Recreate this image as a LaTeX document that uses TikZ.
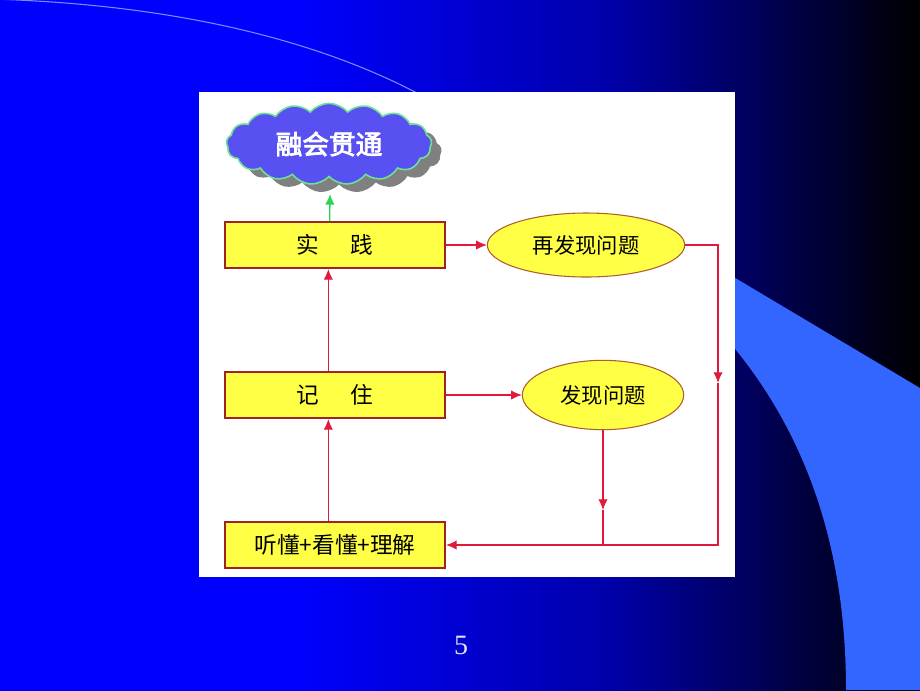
\documentclass[tikz,border=0pt]{standalone}
\usepackage{fontspec}
\usepackage{tikz}
\usetikzlibrary{calc,shapes,shapes.symbols,arrows.meta}
\newfontfamily\cjk{Noto Sans CJK SC}
\newfontfamily\cjkbold[FakeBold=3]{Noto Sans CJK SC}
\newfontfamily\numfont{Liberation Serif}
\definecolor{bgmid}{RGB}{0,0,170}
\definecolor{bgnavy}{RGB}{0,0,100}
\definecolor{bandblue}{RGB}{51,102,255}
\definecolor{arcblue}{RGB}{120,140,255}
\definecolor{boxyellow}{RGB}{255,255,70}
\definecolor{boxborder}{RGB}{160,35,35}
\definecolor{ellborder}{RGB}{175,95,40}
\definecolor{linered}{RGB}{225,25,60}
\definecolor{arrowgreen}{RGB}{40,215,80}
\definecolor{cloudblue}{RGB}{88,80,240}
\definecolor{cloudedge}{RGB}{110,225,150}
\definecolor{shadowgray}{RGB}{128,128,128}
\definecolor{numgray}{RGB}{225,225,235}
\pgfdeclarehorizontalshading{slidebg}{100bp}{color(0bp)=(blue); color(25bp)=(blue); color(41bp)=(blue); color(58bp)=(bgmid); color(65bp)=(bgnavy); color(75bp)=(black); color(100bp)=(black)}

\begin{document}
\begin{tikzpicture}[x=0.75pt,y=-0.75pt,
  redline/.style={draw=linered,line width=0.9pt},
  redarrow/.style={redline,-{Latex[length=8pt,width=7pt]}},
  puff/.style={cloud,cloud puffs=17,cloud puff arc=100,aspect=3,inner sep=0pt,
    minimum width=154pt,minimum height=61pt},
  stepbox/.style={draw=boxborder,line width=1.5pt,fill=boxyellow,
    minimum width=165pt,minimum height=34.5pt,inner sep=0pt,
    font=\cjk\fontsize{17}{20}\selectfont},
  question/.style={ellipse,draw=ellborder,line width=0.8pt,fill=boxyellow,
    inner sep=0pt,font=\cjk\fontsize{16}{19}\selectfont}]
  \useasboundingbox (0,0) rectangle (920,690);

  %% Slide background
  \shade[shading=slidebg] (0,0) rectangle (920,690);
  \draw[arcblue,line width=0.8pt] (-10,-1) .. controls (200,5) and (340,50) .. (430,100);
  \fill[bandblue] (700,257) -- (920,388) -- (920,690) -- (846,690)
    .. controls (846,545) and (805,415) .. (700,310) -- cycle;
  \fill[white] (199,92) rectangle (735,577);

  %% Cloud with its shadow
  \node[puff,fill=shadowgray] (SHADOW) at (339,152) {};
  \node[puff,fill=cloudblue,draw=cloudedge,line width=1.2pt,text=white,
    font=\cjkbold\fontsize{20}{24}\selectfont] (RONGHUI) at (329,144) {融会贯通};

  %% Steps on the left
  \foreach \name/\y/\txt in {SJ/245/实\hspace{1.4em}践, JZ/395/记\hspace{1.4em}住, TD/545/听懂+看懂+理解}
  {
    \node[stepbox] (\name) at (335,\y) {\txt};
  }

  %% Questions on the right
  \node[question,minimum width=148pt,minimum height=48pt] (ZFX) at (586,245) {再发现问题};
  \node[question,minimum width=121pt,minimum height=52pt] (FX) at (603,395) {发现问题};

  %% Arrows
  \coordinate (G1) at (330,194);
  \draw[draw=arrowgreen,line width=1pt,-{Latex[length=8pt,width=7pt]}]
    ([xshift=-4pt]SJ.north) -- (G1);
  \draw[redarrow] ([xshift=-5pt]JZ.north) -- ([xshift=-5pt]SJ.south);
  \draw[redarrow] ([xshift=-5pt]TD.north) -- ([xshift=-5pt]JZ.south);
  \draw[redarrow] (SJ.east) -- (ZFX.west);
  \draw[redarrow] (JZ.east) -- (FX.west);

  \coordinate (R1) at (718,383);
  \draw[redarrow] (ZFX.east) -| (R1);
  \draw[redarrow] (R1) |- (TD.east);
  \coordinate (R2) at (603,510);
  \draw[redarrow] (FX.south) -- (R2);
  \draw[redline] (R2) -- (R2 |- TD.east);

  %% Page number
  \node[text=numgray,font=\numfont\fontsize{21}{25}\selectfont] (PAGENO) at (461,645) {5};
\end{tikzpicture}
\end{document}
